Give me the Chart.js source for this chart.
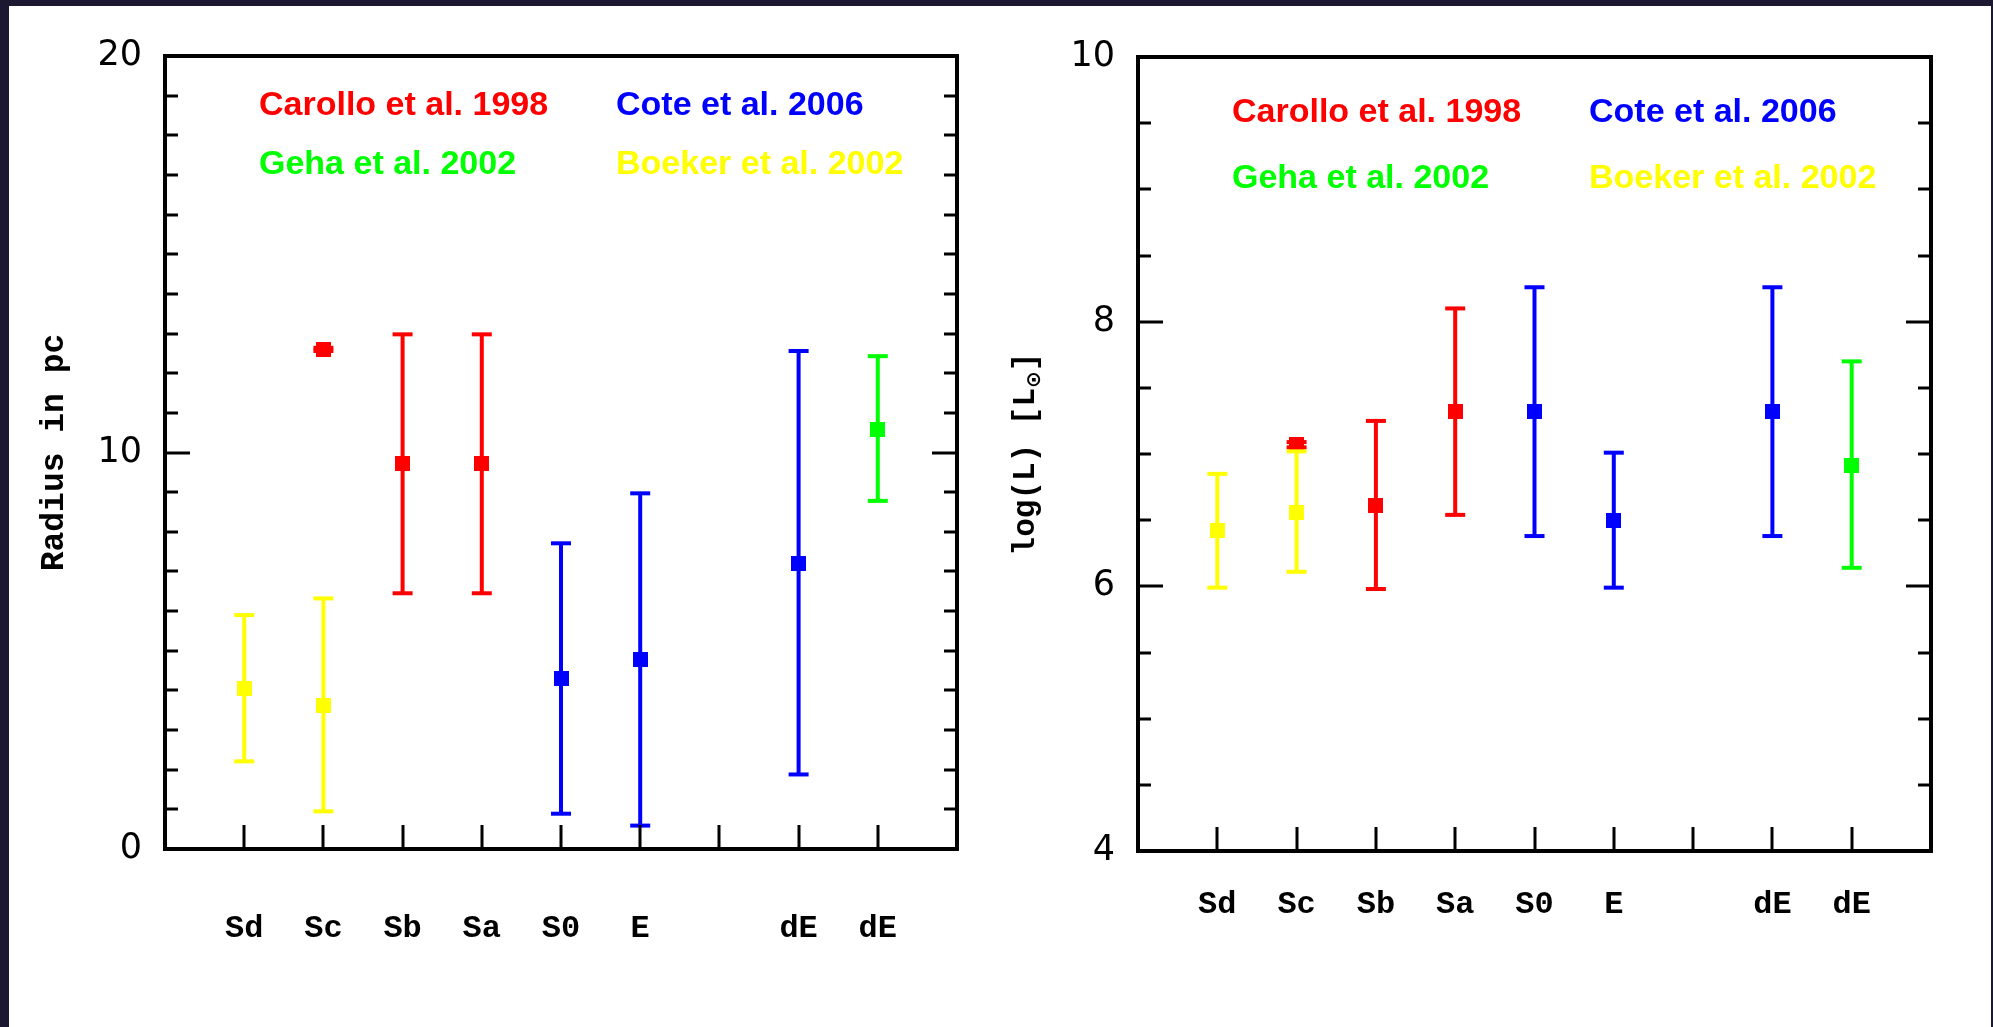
<!DOCTYPE html>
<html>
<head>
<meta charset="utf-8">
<script src="https://cdn.jsdelivr.net/npm/chart.js@4.4.1/dist/chart.umd.min.js"></script>
<style>
  body { margin: 0; width: 1993px; height: 1027px; background: #1d1832; overflow: hidden; position: relative; }
  .panel { position: absolute; left: 9px; top: 6px; width: 1982px; height: 1021px; background: #fff; }
  .box { position: absolute; top: 0; height: 1027px; }
  #left { left: 0; width: 1000px; }
  #right { left: 980px; width: 1013px; }
</style>
</head>
<body>
<div class="panel"></div>
<div class="box" id="left"><canvas id="radiusChart"></canvas></div>
<div class="box" id="right"><canvas id="lumChart"></canvas></div>
<script>
// galaxy types along the x axis (slot 7 is left empty)
const typeLabels = ['Sd', 'Sc', 'Sb', 'Sa', 'S0', 'E', '', 'dE', 'dE'];

const legendNames = ['Carollo et al. 1998', 'Cote et al. 2006', 'Geha et al. 2002', 'Boeker et al. 2002'];
const legendColors = ['#ff0000', '#0000ff', '#00ff00', '#ffff00'];

// x slot of each source's points
const boekerX = [1, 2];
const carolloX = [2, 3, 4];
const coteX = [5, 6, 8];
const gehaX = [9];

// radius in pc: value, lower end, upper end
const boekerRadius = [4.06, 3.61];
const boekerRadiusLo = [2.21, 0.95];
const boekerRadiusHi = [5.90, 6.32];
const carolloRadius = [12.6, 9.71, 9.71];
const carolloRadiusLo = [12.56, 6.45, 6.45];
const carolloRadiusHi = [12.64, 12.98, 12.98];
const coteRadius = [4.30, 4.78, 7.21];
const coteRadiusLo = [0.89, 0.59, 1.88];
const coteRadiusHi = [7.71, 8.97, 12.56];
const gehaRadius = [10.59];
const gehaRadiusLo = [8.78];
const gehaRadiusHi = [12.43];

// log(L) in solar units
const boekerLum = [6.42, 6.56];
const boekerLumLo = [5.99, 6.11];
const boekerLumHi = [6.85, 7.02];
const carolloLum = [7.07, 6.61, 7.32];
const carolloLumLo = [7.05, 5.98, 6.54];
const carolloLumHi = [7.09, 7.25, 8.10];
const coteLum = [7.32, 6.50, 7.32];
const coteLumLo = [6.38, 5.99, 6.38];
const coteLumHi = [8.26, 7.01, 8.26];
const gehaLum = [6.91];
const gehaLumLo = [6.14];
const gehaLumHi = [7.70];

const radiusTicks = [0, 10, 20];
const lumTicks = [4, 6, 8, 10];

function rectMarker(color) {
  const c = document.createElement('canvas');
  c.width = 15;
  c.height = 15;
  const g = c.getContext('2d');
  g.fillStyle = color;
  g.fillRect(0, 0, 15, 15);
  return c;
}

function series(xs, vals, los, his, color) {
  const out = [];
  xs.forEach((x, i) => {
    out.push({
      data: [{ x: x, y: los[i] }, { x: x, y: his[i] }],
      borderColor: color,
      borderWidth: 4,
      showLine: true,
      pointStyle: 'line',
      pointRadius: 10,
      pointBorderWidth: 4,
      pointBorderColor: color
    });
  });
  out.push({
    data: xs.map((x, i) => ({ x: x, y: vals[i] })),
    showLine: false,
    pointStyle: rectMarker(color),
    pointRadius: 8
  });
  return out;
}

const frame = {
  id: 'frame',
  afterDatasetsDraw(chart, args, opts) {
    const { ctx, chartArea: a, scales: { x, y } } = chart;
    ctx.save();
    ctx.strokeStyle = '#000';
    ctx.lineWidth = 3;
    ctx.beginPath();
    for (let v = y.min; v <= y.max + 1e-9; v += opts.minor) {
      const p = Math.round(y.getPixelForValue(v));
      const r = v / opts.major;
      const len = Math.abs(r - Math.round(r)) < 1e-6 ? 25 : 13;
      ctx.moveTo(a.left, p); ctx.lineTo(a.left + len, p);
      ctx.moveTo(a.right, p); ctx.lineTo(a.right - len, p);
    }
    for (let i = 1; i <= typeLabels.length; i++) {
      const p = Math.round(x.getPixelForValue(i));
      ctx.moveTo(p, a.bottom); ctx.lineTo(p, a.bottom - 24);
    }
    ctx.stroke();
    ctx.lineWidth = 4;
    ctx.strokeRect(a.left, a.top, a.right - a.left, a.bottom - a.top);

    ctx.font = 'bold 34px "Liberation Sans"';
    ctx.textBaseline = 'middle';
    ctx.textAlign = 'left';
    legendNames.forEach((name, i) => {
      ctx.fillStyle = legendColors[i];
      ctx.fillText(name, a.left + (i % 2 ? 451 : 94), a.top + opts.rows[Math.floor(i / 2)]);
    });

    if (opts.lumTitle) {
      ctx.translate(opts.lumTitle, (a.top + a.bottom) / 2);
      ctx.rotate(-Math.PI / 2);
      ctx.fillStyle = '#000';
      const main = 'bold 31px "Liberation Mono"';
      const sub = 'bold 20px "DejaVu Sans"';
      ctx.font = main;
      const t1 = 'log(L) [L';
      const w1 = ctx.measureText(t1).width;
      ctx.font = sub;
      const w2 = ctx.measureText('\u2299').width;
      ctx.font = main;
      const w3 = ctx.measureText(']').width;
      const s = -(w1 + w2 + w3) / 2;
      ctx.fillText(t1, s, 0);
      ctx.font = sub;
      ctx.fillText('\u2299', s + w1, 9);
      ctx.font = main;
      ctx.fillText(']', s + w1 + w2, 0);
    }
    ctx.restore();
  }
};

function makeChart(id, datasets, yMin, yMax, yTicks, cfg) {
  return new Chart(document.getElementById(id), {
    type: 'line',
    data: { datasets: datasets },
    options: {
      responsive: true,
      maintainAspectRatio: false,
      animation: false,
      events: [],
      layout: { padding: { top: cfg.top, right: cfg.right, left: 0, bottom: 0 } },
      plugins: {
        legend: { display: false },
        tooltip: { enabled: false },
        frame: { minor: cfg.minor, major: cfg.major, rows: cfg.rows, lumTitle: cfg.lumTitle }
      },
      scales: {
        x: {
          type: 'linear',
          min: 0,
          max: 10,
          afterFit: s => { s.height = cfg.xHeight; s.paddingLeft = 0; s.paddingRight = 0; },
          grid: { display: false, drawTicks: false },
          border: { display: false },
          ticks: {
            stepSize: 1,
            autoSkip: false,
            maxRotation: 0,
            padding: cfg.xPad,
            color: '#000',
            font: { family: '"Liberation Mono"', weight: 'bold', size: 32 },
            callback: v => typeLabels[v - 1] || ''
          }
        },
        y: {
          min: yMin,
          max: yMax,
          afterFit: s => { s.width = cfg.yWidth; s.paddingTop = 0; s.paddingBottom = 0; },
          afterBuildTicks: s => { s.ticks = yTicks.map(v => ({ value: v })); },
          grid: { display: false, drawTicks: false },
          border: { display: false },
          title: {
            display: !!cfg.title,
            text: cfg.title || '',
            color: '#000',
            font: { family: '"Liberation Mono"', weight: 'bold', size: 33 },
            padding: { top: 35 }
          },
          ticks: {
            padding: 23,
            color: '#000',
            font: { family: '"DejaVu Sans"', size: 35 }
          }
        }
      }
    },
    plugins: [frame]
  });
}

const radiusSets = [].concat(
  series(boekerX, boekerRadius, boekerRadiusLo, boekerRadiusHi, '#ffff00'),
  series(carolloX, carolloRadius, carolloRadiusLo, carolloRadiusHi, '#ff0000'),
  series(coteX, coteRadius, coteRadiusLo, coteRadiusHi, '#0000ff'),
  series(gehaX, gehaRadius, gehaRadiusLo, gehaRadiusHi, '#00ff00')
);

const lumSets = [].concat(
  series(boekerX, boekerLum, boekerLumLo, boekerLumHi, '#ffff00'),
  series(carolloX, carolloLum, carolloLumLo, carolloLumHi, '#ff0000'),
  series(coteX, coteLum, coteLumLo, coteLumHi, '#0000ff'),
  series(gehaX, gehaLum, gehaLumLo, gehaLumHi, '#00ff00')
);

makeChart('radiusChart', radiusSets, 0, 20, radiusTicks, {
  top: 56, right: 43, yWidth: 165, xHeight: 178, xPad: 61,
  minor: 1, major: 10, rows: [50, 109], title: 'Radius in pc'
});

makeChart('lumChart', lumSets, 4, 10, lumTicks, {
  top: 57, right: 62, yWidth: 158, xHeight: 176, xPad: 35,
  minor: 0.5, major: 2, rows: [56, 122], lumTitle: 46
});
</script>
</body>
</html>
